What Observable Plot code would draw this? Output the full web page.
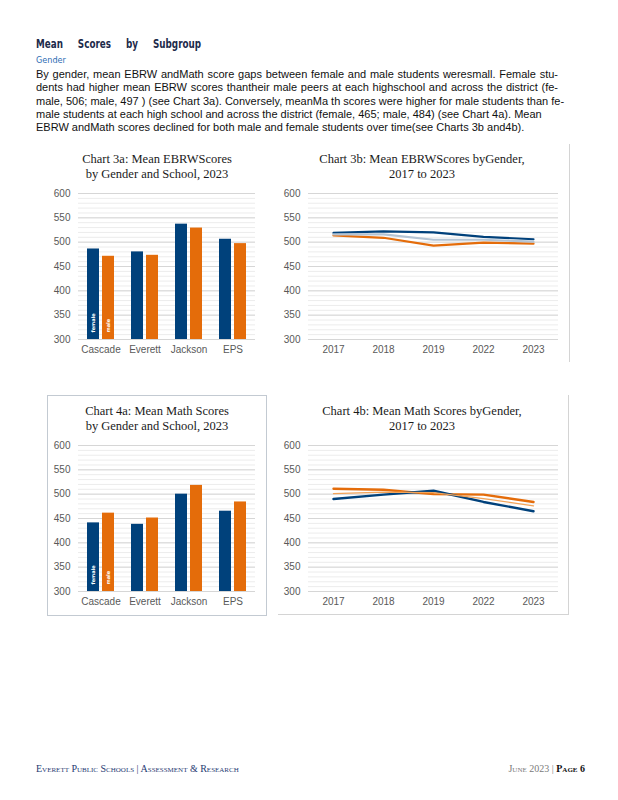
<!DOCTYPE html>
<html>
<head>
<meta charset="utf-8">
<script src="https://cdn.jsdelivr.net/npm/d3@7"></script>
<script src="https://cdn.jsdelivr.net/npm/@observablehq/plot@0.6"></script>
<style>
  html, body { margin:0; padding:0; background:#fff; }
  body { width:618px; height:800px; position:relative; overflow:hidden; font-family:"Liberation Sans", Arial, sans-serif; }
  .abs { position:absolute; }
  #title { left:36px; top:37px; font-family:"DejaVu Sans",sans-serif; font-stretch:condensed; font-weight:bold; font-size:11.5px; color:#1c2a4a; word-spacing:14px; white-space:nowrap; transform:scaleX(0.85); transform-origin:left top; }
  #sub { left:36px; top:55px; font-family:"DejaVu Sans",sans-serif; font-stretch:condensed; font-size:9px; color:#2e6db4; }
  #para { left:36px; top:68px; font-size:11px; line-height:13.3px; color:#111; }
  #para div { text-align:justify; text-align-last:justify; white-space:nowrap; }
  .ctitle { font-family:"Liberation Serif","Times New Roman",serif; font-size:12.5px; line-height:14.5px; color:#1a1a1a; text-align:center; white-space:nowrap; }
  .chart svg { display:block; }
  #footL { left:36px; top:763px; font-family:"Liberation Serif",serif; font-variant:small-caps; font-size:10px; color:#1f3b73; white-space:nowrap; }
  #footR { right:33px; top:763px; font-family:"Liberation Serif",serif; font-variant:small-caps; font-size:10px; color:#7a7a7a; white-space:nowrap; }
  #footR b { color:#111; }
</style>
</head>
<body>
<div id="title" class="abs">Mean Scores by Subgroup</div>
<div id="sub" class="abs">Gender</div>
<div id="para" class="abs">
  <div style="width:522px">By gender, mean EBRW andMath score gaps between female and male students weresmall. Female stu-</div>
  <div style="width:522px">dents had higher mean EBRW scores thantheir male peers at each highschool and across the district (fe-</div>
  <div style="width:524px">male, 506; male, 497 ) (see Chart 3a). Conversely, meanMa th scores were higher for male students than fe-</div>
  <div style="width:476px">male students at each high school and across the district (female, 465; male, 484) (see Chart 4a). Mean</div>
  <div style="width:479px;text-align-last:left">EBRW andMath scores declined for both male and female students over time(see Charts 3b and4b).</div>
</div>

<div class="abs" style="left:569px;top:144px;width:1px;height:218px;background:#d4d4d4"></div>
<div class="abs" style="left:47px;top:395px;width:218px;height:219px;border:1px solid #c3cad2"></div>
<div class="abs" style="left:568px;top:395px;width:1px;height:220px;background:#d4d4d4"></div>
<div class="abs" style="left:278px;top:614px;width:291px;height:1px;background:#d4d4d4"></div>

<div class="abs ctitle" style="left:48px;width:218px;top:152px">Chart 3a: Mean EBRWScores<br>by Gender and School, 2023</div>
<div class="abs ctitle" style="left:272px;width:300px;top:152px">Chart 3b: Mean EBRWScores byGender,<br>2017 to 2023</div>
<div class="abs ctitle" style="left:48px;width:218px;top:404px">Chart 4a: Mean Math Scores<br>by Gender and School, 2023</div>
<div class="abs ctitle" style="left:272px;width:300px;top:404px">Chart 4b: Mean Math Scores byGender,<br>2017 to 2023</div>

<div id="c3a" class="abs chart" style="left:48px;top:185px"></div>
<div id="c3b" class="abs chart" style="left:272px;top:185px"></div>
<div id="c4a" class="abs chart" style="left:48px;top:437px"></div>
<div id="c4b" class="abs chart" style="left:272px;top:437px"></div>

<div id="footL" class="abs">Everett Public Schools | Assessment &amp; Research</div>
<div id="footR" class="abs">June 2023 | <b>Page 6</b></div>

<script>
// ---- Data ----
const schools = ["Cascade", "Everett", "Jackson", "EPS"];
const genders = ["female", "male"];
const ebrwFemale = [486, 480, 537, 506];
const ebrwMale   = [471, 473, 529, 497];
const mathFemale = [441, 438, 500, 465];
const mathMale   = [461, 451, 518, 484];

const years = ["2017", "2018", "2019", "2022", "2023"];
const ebrwTrendFemale = [519, 522, 520, 511, 506];
const ebrwTrendMale   = [514, 509, 493, 499, 497];
const ebrwTrendAll    = [516, 516, 505, 505, 501];
const mathTrendFemale = [490, 499, 507, 484, 465];
const mathTrendMale   = [511, 509, 500, 499, 484];
const mathTrendAll    = [501, 504, 503, 491, 476];

const yDomain = [300, 600];
const majorTicks = [300, 350, 400, 450, 500, 550, 600];
const minorTicks = d3.range(300, 601, 10);

const NAVY = "#00417b";
const ORANGE = "#e46c0a";

const baseStyle = {
  fontFamily: "'Liberation Sans', Arial, sans-serif",
  fontSize: "10px",
  color: "#595959",
  background: "transparent",
  overflow: "visible"
};

function gridMarks() {
  return [
    Plot.gridY({ticks: minorTicks, stroke: "#ececec", strokeOpacity: 1}),
    Plot.gridY({ticks: majorTicks, stroke: "#d6d6d6", strokeOpacity: 1})
  ];
}

function barChart(female, male) {
  const fData = schools.map((s, i) => ({school: s, gender: genders[0], value: female[i]}));
  const mData = schools.map((s, i) => ({school: s, gender: genders[1], value: male[i]}));
  const labelStyle = {fill: "white", fontSize: 5, fontWeight: "bold",
    fontFamily: "'DejaVu Sans',sans-serif",
    rotate: -90, textAnchor: "start", dy: -7};
  return Plot.plot({
    width: 215, height: 175,
    marginLeft: 30, marginRight: 8, marginTop: 8, marginBottom: 21,
    x: {domain: schools, paddingInner: 0.39, paddingOuter: 0.195, label: null},
    y: {domain: yDomain, label: null},
    style: baseStyle,
    marks: [
      ...gridMarks(),
      Plot.barY(fData, {x: "school", y: "value", fill: NAVY, insetRight: 15, clip: true}),
      Plot.barY(mData, {x: "school", y: "value", fill: ORANGE, insetLeft: 15, clip: true}),
      Plot.text([{school: schools[0], t: genders[0]}], {x: "school", y: () => yDomain[0], text: "t", dx: -7.5, ...labelStyle}),
      Plot.text([{school: schools[0], t: genders[1]}], {x: "school", y: () => yDomain[0], text: "t", dx: 7.5, ...labelStyle}),
      Plot.axisY({ticks: majorTicks, tickSize: 0, tickPadding: 8, label: null, fill: "#595959"}),
      Plot.axisX({tickSize: 0, tickPadding: 6, label: null, fill: "#595959"})
    ]
  });
}

function lineChart(female, male, all, allColor, allWidth, mainWidth) {
  const mk = (arr, s) => years.map((y, i) => ({year: y, series: s, value: arr[i]}));
  return Plot.plot({
    width: 296, height: 175,
    marginLeft: 36, marginRight: 10, marginTop: 8, marginBottom: 21,
    x: {type: "point", domain: years, padding: 0.5, label: null},
    y: {domain: yDomain, label: null},
    style: baseStyle,
    marks: [
      ...gridMarks(),
      Plot.line(mk(male, "Male"), {x: "year", y: "value", stroke: ORANGE, strokeWidth: mainWidth}),
      Plot.line(mk(female, "Female"), {x: "year", y: "value", stroke: NAVY, strokeWidth: mainWidth}),
      Plot.line(mk(all, "All"), {x: "year", y: "value", stroke: allColor, strokeWidth: allWidth}),
      Plot.axisY({ticks: majorTicks, tickSize: 0, tickPadding: 8, label: null, fill: "#595959"}),
      Plot.axisX({tickSize: 0, tickPadding: 6, label: null, fill: "#595959"})
    ]
  });
}

document.getElementById("c3a").append(barChart(ebrwFemale, ebrwMale));
document.getElementById("c4a").append(barChart(mathFemale, mathMale));
document.getElementById("c3b").append(lineChart(ebrwTrendFemale, ebrwTrendMale, ebrwTrendAll, "#b4c4d4", 2.2, 2.2));
document.getElementById("c4b").append(lineChart(mathTrendFemale, mathTrendMale, mathTrendAll, "#f2a45a", 1.3, 2.4));
</script>
</body>
</html>
